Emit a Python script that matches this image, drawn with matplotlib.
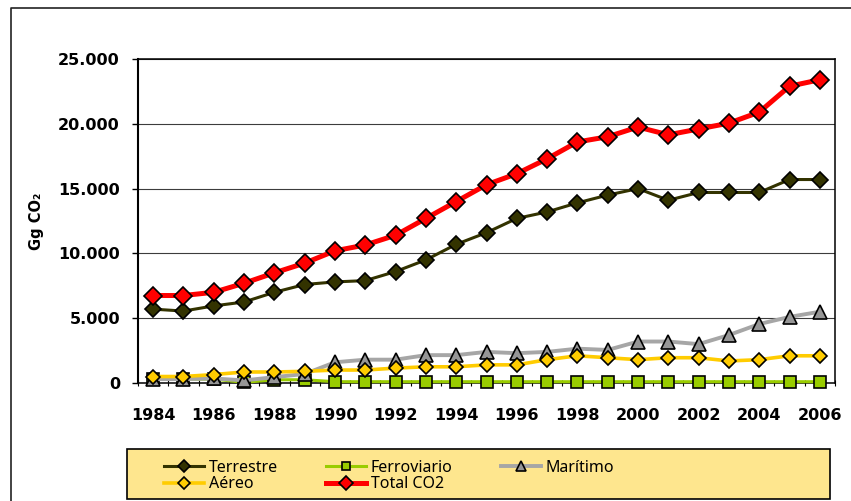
import matplotlib
matplotlib.use("Agg")
import matplotlib.pyplot as plt
from matplotlib.lines import Line2D
from matplotlib.patches import Rectangle
import numpy as np

years = list(range(1984, 2007))

terrestre = [5700, 5550, 5950, 6250, 7000, 7600, 7800, 7900, 8600, 9500, 10700,
             11600, 12700, 13200, 13900, 14500, 15000, 14100, 14700, 14700, 14700,
             15700, 15700]
ferroviario = [300, 300, 300, 50, 250, 250, 100, 100, 100, 100, 100,
               100, 100, 100, 100, 100, 100, 100, 100, 100, 100,
               100, 100]
maritimo = [300, 300, 350, 200, 450, 700, 1600, 1800, 1800, 2150, 2150,
            2400, 2300, 2400, 2650, 2550, 3200, 3200, 3000, 3700, 4550,
            5100, 5500]
aereo = [500, 500, 650, 850, 850, 900, 1000, 1000, 1150, 1250, 1250,
         1400, 1400, 1800, 2100, 1950, 1800, 1950, 1950, 1700, 1800,
         2100, 2100]
total = [6750, 6750, 7000, 7700, 8500, 9250, 10200, 10650, 11400, 12700, 14000,
         15300, 16150, 17300, 18600, 19000, 19750, 19150, 19600, 20050, 20900,
         22900, 23400]

W, H = 851, 501
fig = plt.figure(figsize=(W / 100, H / 100), dpi=100)
ax = fig.add_axes([138 / W, (H - 383) / H, (835 - 138) / W, (383 - 59) / H])

x = np.arange(len(years))

series = [
    ("Terrestre", terrestre, "#333300", "#333300", "D", 8.0, 2.2),
    ("Aéreo", aereo, "#FFCC00", "#FFCC00", "D", 7.5, 2.6),
    ("Ferroviario", ferroviario, "#99CC00", "#99CC00", "s", 8.5, 2.2),
    ("Total CO2", total, "#FF0000", "#FF0000", "D", 9.5, 3.6),
    ("Marítimo", maritimo, "#A6A6A6", "#969696", "^", 9.5, 2.8),
]
zorders = {"Ferroviario": 3, "Marítimo": 4, "Aéreo": 5, "Terrestre": 6, "Total CO2": 7}

handles = []
for name, vals, lc, fc, mk, ms, lw in series:
    h, = ax.plot(x, vals, color=lc, lw=lw, marker=mk, ms=ms,
                 markerfacecolor=fc, markeredgecolor="black", markeredgewidth=1.2,
                 label=name, zorder=zorders[name], clip_on=False)
    handles.append(h)

ax.set_xlim(-0.5, len(years) - 0.5)
ax.set_ylim(0, 25000)
ax.set_yticks(np.arange(0, 25001, 5000))
ax.set_yticklabels(["0", "5.000", "10.000", "15.000", "20.000", "25.000"])
ax.set_xticks(x[::2])
ax.set_xticklabels([str(y) for y in years[::2]])
ax.set_xticks(np.arange(-0.5, len(years), 1), minor=True)

ax.tick_params(axis="y", direction="out", length=4, width=1, pad=9,
               labelsize=11.5)
ax.tick_params(axis="x", which="major", length=0, pad=18, labelsize=11.5)
ax.tick_params(axis="x", which="minor", direction="inout", length=5, width=0.8)
for lab in ax.get_xticklabels() + ax.get_yticklabels():
    lab.set_fontweight("bold")

ax.yaxis.grid(True, color="#3C3C3C", lw=0.8)
ax.set_axisbelow(True)
for sp in ax.spines.values():
    sp.set_color("black")
    sp.set_linewidth(1.1)
ax.spines["left"].set_linewidth(1.5)

ax.set_ylabel("Gg CO₂", fontsize=10.5, fontweight="bold", labelpad=10)

# outer chart frame (top and left edges visible)
fig.add_artist(Line2D([11 / W, 11 / W, 1], [0, 1 - 8 / H, 1 - 8 / H],
                      transform=fig.transFigure, color="#222222", lw=1.2))

# legend box
fig.add_artist(Rectangle((127 / W, (H - 499) / H), (830 - 127) / W, 50 / H,
                         transform=fig.transFigure, facecolor="#FEE68E",
                         edgecolor="black", lw=1.2, zorder=0))
fig.legend(handles=handles, loc="center left", ncol=3, frameon=False,
           bbox_to_anchor=(150 / W, (H - 476) / H),
           prop={"family": "Noto Sans", "size": 11.5},
           handlelength=2.5, handletextpad=0.3, columnspacing=3.0,
           labelspacing=0.05, markerscale=0.75)

fig.savefig("out.png", dpi=100)
